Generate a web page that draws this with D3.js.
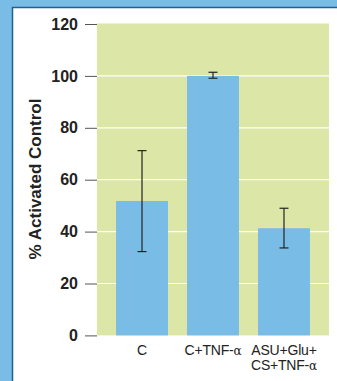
<!DOCTYPE html>
<html>
<head>
<meta charset="utf-8">
<script src="https://cdn.jsdelivr.net/npm/d3@7"></script>
<style>
  body { margin: 0; background: #79bde7; }
  svg { display: block; }
</style>
</head>
<body>
<div id="vis"></div>
<script>
// data
const groups = ["C", "C+TNF-α", "ASU+Glu+CS+TNF-α"];
const groupLines = [["C"], ["C+TNF-α"], ["ASU+Glu+", "CS+TNF-α"]];
const means = [51.8, 100, 41.3];
const errLow = [32.3, 99.1, 33.7];
const errHigh = [71.2, 101.4, 49];
const yTicks = [0, 20, 40, 60, 80, 100, 120];

const W = 337, H = 381;
const font = "'Liberation Sans Narrow', 'Liberation Sans', Arial, sans-serif";

const svg = d3.select("#vis").append("svg")
  .attr("width", W)
  .attr("height", H);

// white panel with dark blue top/left edge
svg.append("rect")
  .attr("x", 12).attr("y", 8)
  .attr("width", W - 12).attr("height", H - 8)
  .attr("fill", "#fff");
svg.append("path")
  .attr("d", `M12.5,${H} V7.5 H${W}`)
  .attr("fill", "none")
  .attr("stroke", "#1f5f95")
  .attr("stroke-width", 1.5);

const plot = { left: 97, right: 329, top: 24, bottom: 335.4 };

const x = d3.scaleBand()
  .domain(groups)
  .range([plot.left, plot.right])
  .paddingInner(0.268)
  .paddingOuter(0.268);

const y = d3.scaleLinear()
  .domain([0, 120])
  .range([plot.bottom, plot.top]);

// green background
svg.append("rect")
  .attr("x", plot.left).attr("y", plot.top - 0.5)
  .attr("width", plot.right - plot.left)
  .attr("height", plot.bottom - plot.top + 0.5)
  .attr("fill", "#dce6a6");

// white grid lines
svg.selectAll("line.grid")
  .data(yTicks.filter(d => d > 0 && d < 120))
  .enter().append("line")
  .attr("class", "grid")
  .attr("x1", plot.left).attr("x2", plot.right)
  .attr("y1", d => y(d)).attr("y2", d => y(d))
  .attr("stroke", "#fff")
  .attr("stroke-width", 1.2);

// bars
svg.selectAll("rect.bar")
  .data(groups)
  .enter().append("rect")
  .attr("class", "bar")
  .attr("x", d => x(d))
  .attr("y", (d, i) => y(means[i]))
  .attr("width", x.bandwidth())
  .attr("height", (d, i) => y(0) - y(means[i]))
  .attr("fill", "#79bde6");

// error bars
const err = svg.append("g")
  .attr("stroke", "#222")
  .attr("stroke-width", 1.2)
  .attr("fill", "none");
groups.forEach((g, i) => {
  const cx = x(g) + x.bandwidth() / 2;
  err.append("line")
    .attr("x1", cx).attr("x2", cx)
    .attr("y1", y(errLow[i])).attr("y2", y(errHigh[i]));
  [errLow[i], errHigh[i]].forEach(v => {
    err.append("line")
      .attr("x1", cx - 4.5).attr("x2", cx + 4.5)
      .attr("y1", y(v)).attr("y2", y(v));
  });
});

// y axis
const yAxis = svg.append("g")
  .attr("transform", `translate(${plot.left},0)`)
  .call(d3.axisLeft(y).tickValues(yTicks).tickSize(12).tickPadding(7));
yAxis.select(".domain").remove();
yAxis.selectAll(".tick line").attr("stroke", "#555");
yAxis.selectAll(".tick text")
  .attr("fill", "#222")
  .style("font-family", font)
  .style("font-weight", "bold")
  .style("font-size", "16px");

// y label
svg.append("text")
  .attr("transform", `translate(41,179) rotate(-90)`)
  .attr("text-anchor", "middle")
  .attr("fill", "#222")
  .style("font-family", font)
  .style("font-weight", "bold")
  .style("font-size", "17px")
  .text("% Activated Control");

// x labels, alpha set in a serif face like the original
groups.forEach((g, i) => {
  const cx = x(g) + x.bandwidth() / 2;
  groupLines[i].forEach((line, j) => {
    const t = svg.append("text")
      .attr("x", cx)
      .attr("y", 355 + j * 15)
      .attr("text-anchor", "middle")
      .attr("fill", "#222")
      .style("font-family", font)
      .style("font-size", "14px")
      .style("letter-spacing", "-0.2px");
    line.split(/(α)/).filter(s => s).forEach(part => {
      const s = t.append("tspan").text(part);
      if (part === "α") s.style("font-family", "'DejaVu Serif', serif").style("font-size", "12px");
    });
  });
});
</script>
</body>
</html>
